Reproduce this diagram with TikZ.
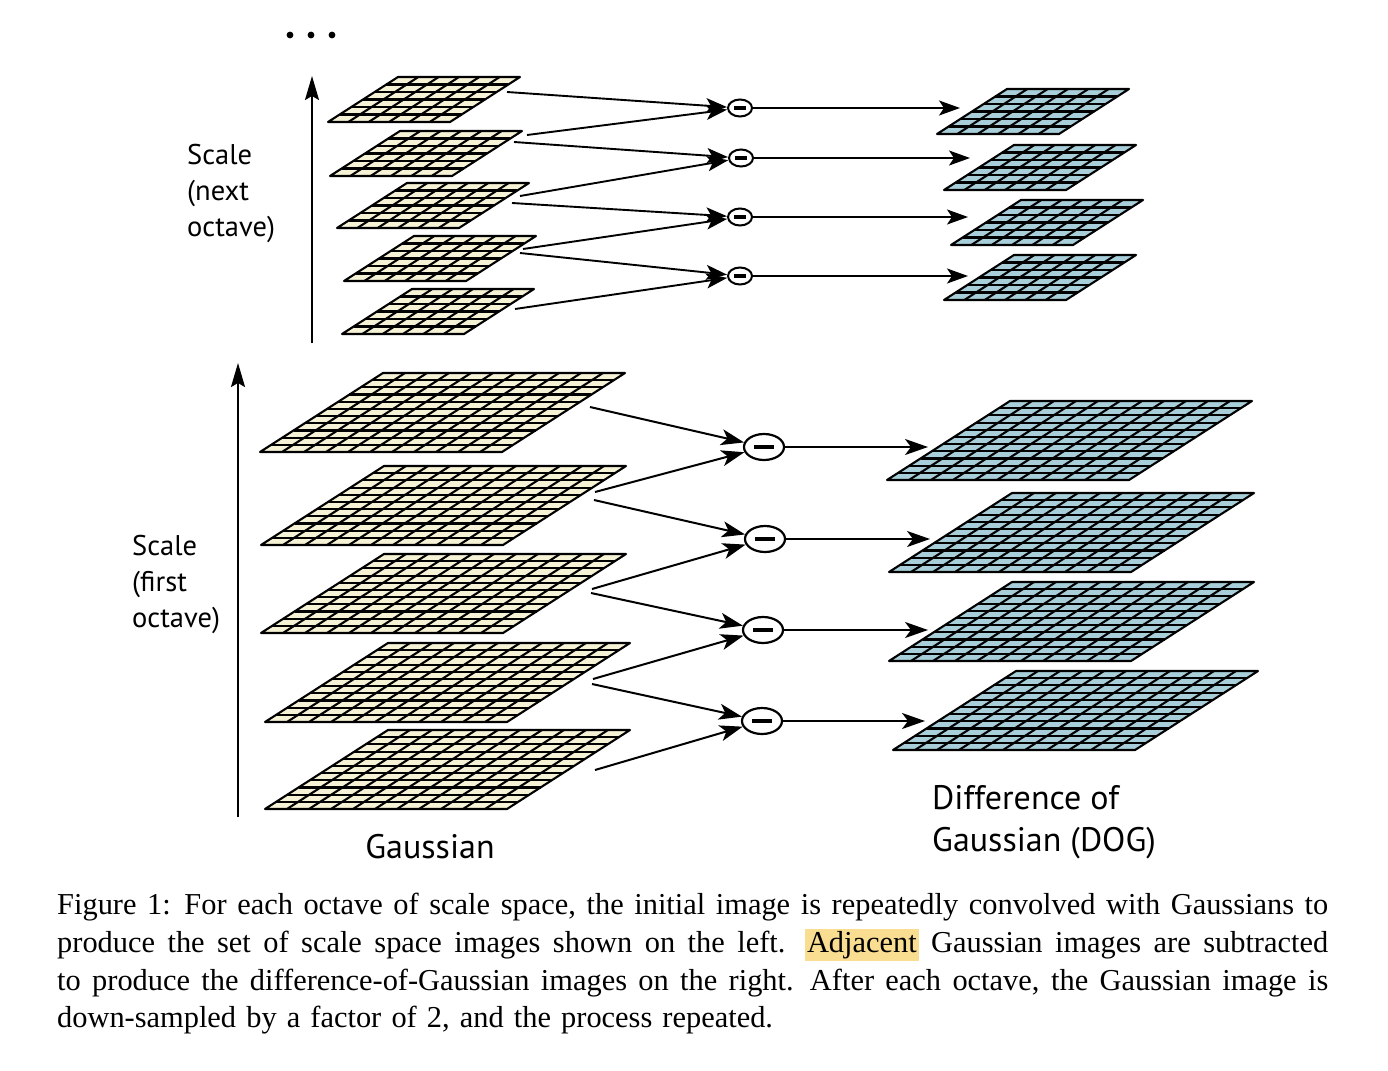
\documentclass[tikz,border=0pt]{standalone}
\usepackage{fontspec}
\setmainfont{Liberation Serif}
\newfontfamily\labfont{PT Sans}
\usetikzlibrary{arrows.meta,shapes.geometric}
\definecolor{gfill}{RGB}{246,242,213}
\definecolor{dfill}{RGB}{168,206,217}
\definecolor{hlcol}{RGB}{249,222,146}
\tikzset{
  gline/.style={line width=2.1pt, black, line join=round},
  arrbig/.style={-{Stealth[length=23pt,width=16pt,inset=6pt]}, line width=2pt},
  arrsmall/.style={-{Stealth[length=21pt,width=15pt,inset=5pt]}, line width=1.9pt},
  axarr/.style={-{Stealth[length=24pt,width=14pt,inset=4pt]}, line width=2pt},
  mbig/.style={ellipse, draw, line width=2.2pt, fill=white, minimum width=40pt, minimum height=26pt, inner sep=0pt},
  msmall/.style={ellipse, draw, line width=2pt, fill=white, minimum width=24pt, minimum height=17pt, inner sep=0pt},
  labs/.style={font=\labfont\fontsize{28.5}{36}\selectfont, inner sep=0pt, align=left},
  labb/.style={font=\labfont\fontsize{34}{42}\selectfont, inner sep=0pt, align=left},
}
\newcommand{\pgrid}[8]{%
  \begin{scope}[shift={(#2,#3)}]
    \coordinate (#1) at (0,0);
    \fill[#8] (0,0) -- (#4,0) -- ({#4+#5},#6) -- (#5,#6) -- cycle;
    \pgfmathtruncatemacro{\gridn}{#7-1}
    \foreach \i in {1,...,\gridn}{
      \draw[gline] ({#4*\i/#7},0) -- ({#4*\i/#7+#5},#6);
      \draw[gline] ({#5*\i/#7},{#6*\i/#7}) -- ({#4+#5*\i/#7},{#6*\i/#7});
    }
    \draw[gline] (0,0) -- (#4,0) -- ({#4+#5},#6) -- (#5,#6) -- cycle;
  \end{scope}}
\begin{document}
\begin{tikzpicture}[x=1pt,y=-1pt]
\useasboundingbox (0,0) rectangle (1388,1070);
\fill[white] (0,0) rectangle (1388,1070);

% ---------- big Gaussian grids ----------
\pgrid{G1}{260}{452}{242}{123}{-79}{11}{gfill}
\pgrid{G2}{261}{545}{242}{123}{-79}{11}{gfill}
\pgrid{G3}{261}{633}{242}{123}{-79}{11}{gfill}
\pgrid{G4}{265}{722}{242}{123}{-79}{11}{gfill}
\pgrid{G5}{265}{809}{242}{123}{-79}{11}{gfill}
% ---------- big DOG grids ----------
\pgrid{D1}{887}{480}{242}{123}{-79}{11}{dfill}
\pgrid{D2}{889}{572}{242}{123}{-79}{11}{dfill}
\pgrid{D3}{889}{661}{242}{123}{-79}{11}{dfill}
\pgrid{D4}{893}{750}{242}{123}{-79}{11}{dfill}
% ---------- small Gaussian grids ----------
\pgrid{g1}{328}{122}{122}{70}{-45}{6}{gfill}
\pgrid{g2}{330}{176}{122}{70}{-45}{6}{gfill}
\pgrid{g3}{337}{228}{122}{70}{-45}{6}{gfill}
\pgrid{g4}{344}{281}{122}{70}{-45}{6}{gfill}
\pgrid{g5}{342}{334}{122}{70}{-45}{6}{gfill}
% ---------- small DOG grids ----------
\pgrid{d1}{937}{134}{122}{70}{-45}{6}{dfill}
\pgrid{d2}{944}{190}{122}{70}{-45}{6}{dfill}
\pgrid{d3}{951}{245}{122}{70}{-45}{6}{dfill}
\pgrid{d4}{944}{300}{122}{70}{-45}{6}{dfill}

% ---------- minus nodes ----------
\node[mbig] (M1) at (764,447) {\rule{20pt}{4.5pt}};
\node[mbig] (M2) at (765,539) {\rule{20pt}{4.5pt}};
\node[mbig] (M3) at (763,630) {\rule{20pt}{4.5pt}};
\node[mbig] (M4) at (762,721) {\rule{20pt}{4.5pt}};
\node[msmall] (m1) at (740,108) {\rule{12pt}{4pt}};
\node[msmall] (m2) at (741,158) {\rule{12pt}{4pt}};
\node[msmall] (m3) at (740,217) {\rule{12pt}{4pt}};
\node[msmall] (m4) at (740,276) {\rule{12pt}{4pt}};

% ---------- arrow start points on Gaussian grids ----------
\coordinate (G1a) at (590,407);
\coordinate (G2a) at (595,492);
\coordinate (G2b) at (594,500);
\coordinate (G3a) at (592,589);
\coordinate (G3b) at (591,593);
\coordinate (G4a) at (593,679);
\coordinate (G4b) at (592,684);
\coordinate (G5a) at (595,770);
\coordinate (g1a) at (507,92);
\coordinate (g2a) at (527,135);
\coordinate (g2b) at (514,142);
\coordinate (g3a) at (520,196);
\coordinate (g3b) at (512,203);
\coordinate (g4a) at (523,249);
\coordinate (g4b) at (520,253);
\coordinate (g5a) at (515,309);
% ---------- arrow end points at DOG grids ----------
\coordinate (D1i) at (928,447);
\coordinate (D2i) at (930,539);
\coordinate (D3i) at (928,630);
\coordinate (D4i) at (925,721);
\coordinate (d1i) at (960,108);
\coordinate (d2i) at (970,158);
\coordinate (d3i) at (968,217);
\coordinate (d4i) at (968,276);

\draw[arrbig] (G1a) -- (M1);
\draw[arrbig] (G2a) -- (M1);
\draw[arrbig] (G2b) -- (M2);
\draw[arrbig] (G3a) -- (M2);
\draw[arrbig] (G3b) -- (M3);
\draw[arrbig] (G4a) -- (M3);
\draw[arrbig] (G4b) -- (M4);
\draw[arrbig] (G5a) -- (M4);
\draw[arrbig] (M1) -- (D1i);
\draw[arrbig] (M2) -- (D2i);
\draw[arrbig] (M3) -- (D3i);
\draw[arrbig] (M4) -- (D4i);

\draw[arrsmall] (g1a) -- (m1);
\draw[arrsmall] (g2a) -- (m1);
\draw[arrsmall] (g2b) -- (m2);
\draw[arrsmall] (g3a) -- (m2);
\draw[arrsmall] (g3b) -- (m3);
\draw[arrsmall] (g4a) -- (m3);
\draw[arrsmall] (g4b) -- (m4);
\draw[arrsmall] (g5a) -- (m4);
\draw[arrsmall] (m1) -- (d1i);
\draw[arrsmall] (m2) -- (d2i);
\draw[arrsmall] (m3) -- (d3i);
\draw[arrsmall] (m4) -- (d4i);

% ---------- scale axes ----------
\coordinate (A1s) at (238,817);
\coordinate (A1e) at (238,363);
\coordinate (A2s) at (312,343);
\coordinate (A2e) at (312,76);
\draw[axarr] (A1s) -- (A1e);
\draw[axarr] (A2s) -- (A2e);

% ---------- dots ----------
\fill (290,35) circle[radius=3.4pt];
\fill (311,35) circle[radius=3.4pt];
\fill (332,35) circle[radius=3.4pt];

% ---------- labels ----------
\node[labs, anchor=north west] (Lnext) at (187,144) {Scale\\(next\\octave)};
\node[labs, anchor=north west] (Lfirst) at (132,535) {Scale\\(first\\octave)};
\node[labb, anchor=base] (Lgauss) at (430,858) {Gaussian};
\node[labb, anchor=north west] (Ldog) at (932,785) {Difference of\\Gaussian (DOG)};

% ---------- caption ----------
\node[anchor=north west, inner sep=0pt, text width=1271pt, align=justify,
      font=\fontsize{30.4}{37.7}\selectfont] (cap) at (57,893)
{\spaceskip=0.3333em plus 0.3em minus 0.03em\relax
Figure 1: For each octave of scale space, the initial image is repeatedly convolved with Gaussians to\linebreak
produce the set of scale space images shown on the left. {\setlength{\fboxsep}{2pt}\colorbox{hlcol}{Adjacent}} Gaussian images are subtracted\linebreak
to produce the difference-of-Gaussian images on the right. After each octave, the Gaussian image is\linebreak
down-sampled by a factor of 2, and the process repeated.\par};
\end{tikzpicture}
\end{document}
